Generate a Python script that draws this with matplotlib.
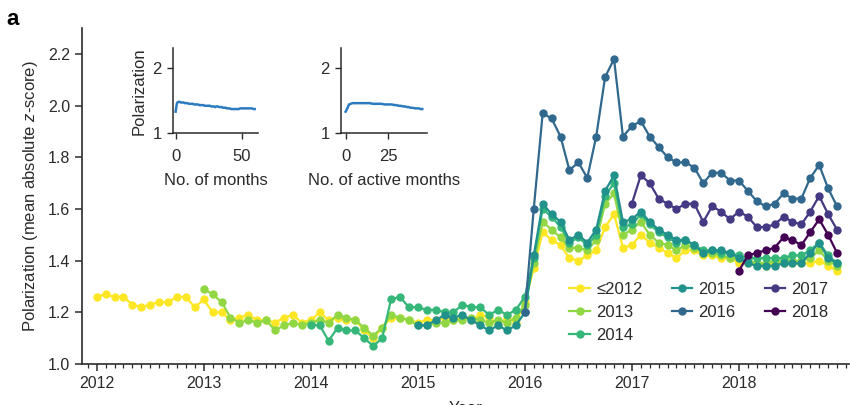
import matplotlib

matplotlib.use("Agg")
import matplotlib.pyplot as plt
import numpy as np
from matplotlib.ticker import FormatStrFormatter, MultipleLocator

plt.rcParams["font.family"] = ["Liberation Sans", "DejaVu Sans"]
plt.rcParams["mathtext.fontset"] = "custom"
plt.rcParams["mathtext.it"] = "Liberation Sans:italic"
plt.rcParams["mathtext.rm"] = "Liberation Sans"

INK = "#2b2b2b"

# Monthly polarization by cohort (first active year), starting January of that year
COHORTS = ["≤2012", "2013", "2014", "2015", "2016", "2017", "2018"]
START_YEARS = [2012, 2013, 2014, 2015, 2016, 2017, 2018]

pol_le2012 = [
    1.26, 1.27, 1.26, 1.26, 1.23, 1.22, 1.23, 1.24, 1.24, 1.26, 1.26, 1.22,
    1.25, 1.20, 1.20, 1.17, 1.18, 1.19, 1.17, 1.17, 1.16, 1.18, 1.19, 1.16,
    1.17, 1.20, 1.17, 1.18, 1.17, 1.17, 1.13, 1.10, 1.14, 1.18, 1.18, 1.17,
    1.16, 1.17, 1.17, 1.18, 1.17, 1.18, 1.17, 1.19, 1.18, 1.15, 1.18, 1.16,
    1.24, 1.37, 1.51, 1.48, 1.46, 1.41, 1.40, 1.42, 1.44, 1.53, 1.58, 1.45,
    1.46, 1.50, 1.47, 1.45, 1.43, 1.41, 1.44, 1.44, 1.42, 1.42, 1.41, 1.41,
    1.39, 1.39, 1.39, 1.38, 1.39, 1.39, 1.39, 1.39, 1.39, 1.40, 1.38, 1.36,
]
pol_2013 = [
    1.29, 1.27, 1.24, 1.18, 1.16, 1.17, 1.16, 1.17, 1.13, 1.15, 1.16, 1.15,
    1.16, 1.17, 1.16, 1.19, 1.18, 1.17, 1.14, 1.11, 1.14, 1.19, 1.18, 1.17,
    1.15, 1.15, 1.16, 1.16, 1.17, 1.17, 1.18, 1.17, 1.16, 1.17, 1.16, 1.18,
    1.23, 1.39, 1.55, 1.52, 1.49, 1.45, 1.45, 1.44, 1.48, 1.62, 1.66, 1.50,
    1.52, 1.55, 1.50, 1.47, 1.46, 1.44, 1.46, 1.45, 1.43, 1.43, 1.42, 1.41,
    1.41, 1.40, 1.39, 1.39, 1.40, 1.40, 1.40, 1.40, 1.41, 1.44, 1.40, 1.38,
]
pol_2014 = [
    1.15, 1.15, 1.09, 1.14, 1.13, 1.13, 1.10, 1.07, 1.10, 1.25, 1.26, 1.22,
    1.22, 1.21, 1.21, 1.20, 1.20, 1.23, 1.22, 1.22, 1.19, 1.21, 1.19, 1.21,
    1.26, 1.41, 1.60, 1.57, 1.53, 1.47, 1.49, 1.46, 1.50, 1.65, 1.70, 1.53,
    1.54, 1.58, 1.54, 1.51, 1.49, 1.47, 1.48, 1.46, 1.44, 1.44, 1.43, 1.43,
    1.42, 1.41, 1.41, 1.41, 1.41, 1.41, 1.42, 1.42, 1.44, 1.47, 1.42, 1.39,
]
pol_2015 = [
    1.15, 1.15, 1.17, 1.19, 1.18, 1.19, 1.17, 1.15, 1.13, 1.15, 1.13, 1.15,
    1.20, 1.42, 1.62, 1.58, 1.55, 1.48, 1.50, 1.47, 1.52, 1.67, 1.73, 1.55,
    1.56, 1.59, 1.55, 1.52, 1.50, 1.48, 1.48, 1.46, 1.43, 1.44, 1.44, 1.43,
    1.41, 1.39, 1.38, 1.38, 1.38, 1.39, 1.39, 1.39, 1.43, 1.47, 1.41, 1.39,
]
pol_2016 = [
    1.20, 1.60, 1.97, 1.95, 1.88, 1.75, 1.78, 1.72, 1.88, 2.11, 2.18, 1.88,
    1.92, 1.94, 1.88, 1.84, 1.80, 1.78, 1.78, 1.76, 1.70, 1.74, 1.74, 1.71,
    1.71, 1.67, 1.63, 1.61, 1.62, 1.66, 1.64, 1.64, 1.72, 1.77, 1.68, 1.61,
]
pol_2017 = [
    1.62, 1.73, 1.70, 1.64, 1.62, 1.60, 1.62, 1.62, 1.55, 1.61, 1.59, 1.56,
    1.59, 1.57, 1.53, 1.53, 1.54, 1.57, 1.55, 1.54, 1.59, 1.65, 1.58, 1.52,
]
pol_2018 = [1.36, 1.42, 1.43, 1.44, 1.45, 1.49, 1.48, 1.46, 1.51, 1.56, 1.50, 1.43]

SERIES = [pol_le2012, pol_2013, pol_2014, pol_2015, pol_2016, pol_2017, pol_2018]

# Inset curves: polarization vs. months since first post / active months
inset_months = [
    1.33, 1.46, 1.48, 1.48, 1.47, 1.47, 1.47, 1.46, 1.46, 1.46, 1.45, 1.45, 1.45,
    1.45, 1.44, 1.44, 1.44, 1.44, 1.43, 1.43, 1.43, 1.43, 1.42, 1.42, 1.42, 1.42,
    1.42, 1.41, 1.41, 1.41, 1.40, 1.41, 1.41, 1.40, 1.40, 1.40, 1.39, 1.39, 1.39,
    1.38, 1.38, 1.38, 1.37, 1.37, 1.37, 1.37, 1.37, 1.37, 1.37, 1.38, 1.38, 1.38,
    1.38, 1.38, 1.38, 1.38, 1.38, 1.38, 1.38, 1.37, 1.37,
]
inset_active = [
    1.33, 1.38, 1.44, 1.45, 1.46, 1.46, 1.46, 1.46, 1.46, 1.46, 1.46, 1.46, 1.46,
    1.46, 1.46, 1.455, 1.45, 1.45, 1.45, 1.45, 1.45, 1.45, 1.445, 1.44, 1.44, 1.44,
    1.44, 1.44, 1.435, 1.43, 1.43, 1.42, 1.42, 1.415, 1.41, 1.41, 1.40, 1.40, 1.39,
    1.39, 1.385, 1.38, 1.38, 1.38, 1.37, 1.37,
]

colours = plt.cm.viridis(np.linspace(1, 0, len(COHORTS)))

fig = plt.figure(figsize=(8.5, 4.05), dpi=100, facecolor="white")
ax = fig.add_axes([0.0965, 0.101, 0.9025, 0.830])

for label, start, vals, col in zip(COHORTS, START_YEARS, SERIES, colours):
    x = start + np.arange(len(vals)) / 12
    ax.plot(x, vals, "-o", color=col, lw=1.6, ms=5, label=label)

ax.set_xlim(2011.863, 2019.03)
ax.set_ylim(1.0, 2.3)
ax.set_xticks(range(2012, 2019))
ax.xaxis.set_minor_locator(MultipleLocator(1 / 12))
ax.set_yticks(np.arange(1.0, 2.21, 0.2))
ax.yaxis.set_major_formatter(FormatStrFormatter("%.1f"))
for s in ("top", "right"):
    ax.spines[s].set_visible(False)
for s in ("left", "bottom"):
    ax.spines[s].set_color(INK)
    ax.spines[s].set_linewidth(1.2)
ax.tick_params(which="major", length=5, width=1.1, color=INK, labelsize=11.5, labelcolor=INK)
ax.tick_params(which="minor", axis="x", length=3, width=0.9, color=INK)
ax.set_ylabel("Polarization (mean absolute $z$-score)", fontsize=12, color=INK, labelpad=6)
ax.set_xlabel("Year", fontsize=12, color=INK, labelpad=7)

ax.legend(
    loc="upper left", bbox_to_anchor=(0.618, 0.285), ncol=3, frameon=False, fontsize=12,
    handlelength=1.25, handletextpad=0.35, columnspacing=1.75, labelspacing=0.5,
    borderpad=0.3, labelcolor=INK,
)

fig.text(0.008, 0.978, "a", fontsize=16, fontweight="bold", va="top", ha="left")

inset_blue = "#2c7bbf"
for rect, vals, xlim, xticks, xlabel, ylabel in (
    ([0.2035, 0.671, 0.1, 0.21], inset_months, (-2, 62.5), [0, 50], "No. of months", "Polarization"),
    ([0.401, 0.671, 0.1008, 0.21], inset_active, (-2.8, 47.5), [0, 25], "No. of active months", None),
):
    ins = fig.add_axes(rect)
    ins.plot(np.arange(len(vals)), vals, color=inset_blue, lw=1.8)
    ins.set_xlim(*xlim)
    ins.set_ylim(1.0, 2.3)
    ins.set_xticks(xticks)
    ins.set_yticks([1, 2])
    for s in ("top", "right"):
        ins.spines[s].set_visible(False)
    for s in ("left", "bottom"):
        ins.spines[s].set_color(INK)
        ins.spines[s].set_linewidth(1.1)
    ins.tick_params(length=4, width=1.0, color=INK, labelsize=12, labelcolor=INK, pad=4)
    ins.tick_params(axis="x", pad=7)
    ins.set_xlabel(xlabel, fontsize=12, color=INK, labelpad=7)
    if ylabel:
        ins.set_ylabel(ylabel, fontsize=12, color=INK, labelpad=4)
    ins.patch.set_alpha(0)

fig.savefig("out.png", dpi=100, facecolor="white")
